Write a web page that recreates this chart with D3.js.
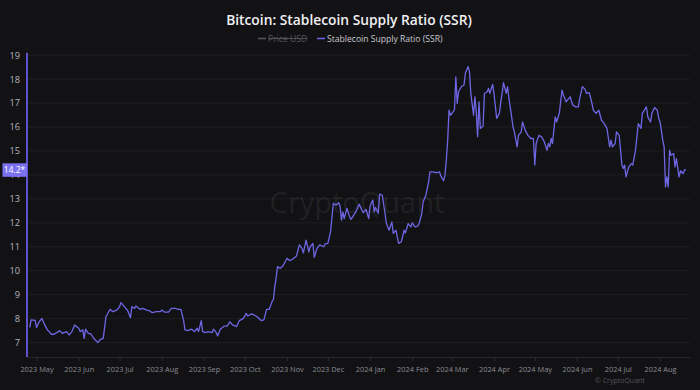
<!DOCTYPE html>
<html>
<head>
<meta charset="utf-8">
<script src="https://cdn.jsdelivr.net/npm/d3@7"></script>
<style>
  html, body { margin: 0; padding: 0; background: #121215; }
  svg { display: block; }
</style>
</head>
<body>
<svg id="chart" width="700" height="390"></svg>
<script>
// ---- data ----
const titleText = "Bitcoin: Stablecoin Supply Ratio (SSR)";
const legendLabels = ["Price USD", "Stablecoin Supply Ratio (SSR)"];
const yTicks = [7, 8, 9, 10, 11, 12, 13, 14, 15, 16, 17, 18, 19];
const lastLabel = "14.2*";
// days since 2023-05-01
const dayOffsets = [
  -5,-4,-1,0,2,4,6,8,11,13,16,17,19,22,24,26,28,31,32,34,35,36,38,40,42,45,47,49,51,53,
  54,56,59,61,62,65,67,69,70,72,73,76,78,81,83,85,88,91,92,94,97,99,102,104,106,108,109,111,114,116,
  118,119,121,122,124,126,129,130,132,133,135,138,140,142,144,147,149,152,154,155,158,160,162,165,167,169,171,173,174,175,
  176,177,179,181,184,186,188,191,193,195,196,198,200,201,203,204,206,208,211,212,214,216,218,220,222,223,224,225,226,228,
  230,231,233,235,237,239,240,242,244,245,247,248,249,251,252,254,256,257,259,261,262,264,266,268,270,271,273,275,276,278,
  280,281,283,284,286,288,289,291,294,296,297,299,300,301,302,303,304,306,307,308,309,310,312,314,315,317,318,319,321,322,
  323,324,325,326,328,329,331,332,333,335,336,338,340,341,342,343,345,346,347,349,350,351,353,354,356,357,359,361,363,365,
  366,367,369,371,373,375,376,377,378,379,381,382,384,386,387,389,391,392,393,394,396,398,399,401,403,404,406,408,409,411,
  413,415,417,419,421,422,423,425,426,428,430,431,432,433,435,437,438,440,442,444,445,448,449,451,452,454,456,457,458,460,
  461,462,463,464,465,466,468,469,470,472,473,475,476,477
];
const ssrValues = [
  7.64,7.95,7.93,7.63,7.87,8.01,7.74,7.53,7.35,7.35,7.46,7.50,7.39,7.46,7.32,7.46,7.74,7.60,7.46,7.53,7.18,7.56,7.39,7.36,7.18,7.00,7.14,7.18,8.08,8.29,
  8.39,8.29,8.36,8.50,8.67,8.47,8.33,8.04,8.50,8.43,8.53,8.39,8.43,8.36,8.33,8.25,8.29,8.29,8.36,8.27,8.27,8.43,8.43,8.39,8.39,7.94,7.53,7.50,7.56,7.46,
  7.60,7.46,7.92,7.46,7.42,7.46,7.42,7.56,7.42,7.28,7.56,7.69,7.69,7.87,7.74,7.67,7.92,8.01,8.22,8.11,8.20,8.15,8.08,7.92,7.95,8.39,8.39,8.71,8.80,9.33,
  9.70,10.17,10.10,10.20,10.52,10.42,10.48,10.62,11.08,10.93,10.75,11.28,10.79,11.00,11.14,10.56,10.93,11.08,11.00,11.12,11.14,11.63,12.81,12.74,12.84,12.67,12.11,12.46,12.18,12.60,
  12.25,12.14,12.32,12.50,12.78,12.53,12.42,12.56,12.18,12.70,12.95,12.46,12.64,12.39,13.20,13.15,12.39,11.97,11.69,12.04,11.56,11.69,11.14,11.21,11.69,11.58,11.97,11.83,12.00,11.83,
  11.86,11.97,12.39,12.88,13.15,13.71,14.13,14.13,14.09,14.13,13.95,13.76,13.99,14.61,15.44,16.70,16.49,16.63,16.73,18.09,16.98,17.47,17.68,17.75,18.24,18.52,18.31,17.40,16.49,17.26,
  16.63,15.59,17.05,15.94,16.04,17.40,17.47,17.61,17.40,17.78,17.40,16.36,16.57,17.05,17.40,17.85,17.40,17.68,17.19,16.42,16.00,15.79,15.17,15.65,15.79,16.21,15.86,15.65,15.52,15.52,
  14.41,15.31,15.65,15.59,15.38,15.03,15.31,15.17,15.52,15.31,16.42,16.21,16.57,17.54,17.33,17.05,17.19,17.26,17.05,16.91,16.84,16.84,17.19,17.68,17.57,17.40,17.43,16.98,16.70,16.57,
  16.70,16.28,16.14,15.94,15.17,15.45,15.17,15.31,15.79,15.65,14.41,14.27,14.41,13.92,14.33,14.47,14.41,15.03,16.14,15.94,16.57,16.84,16.42,16.21,16.57,16.81,16.70,16.36,16.21,15.45,
  15.17,13.50,13.92,13.50,15.03,14.82,14.89,14.33,14.68,13.92,14.17,14.06,14.22,14.20
];

// ---- chart ----
(function () {
const svg = d3.select("#chart");
const W = 700, H = 390;
const mLeft = 27, mRight = 690, mTop = 52.7, mBottom = 357;
const baseDate = new Date(2023, 4, 1);
const series = dayOffsets.map((d, i) => ({ date: d3.timeDay.offset(baseDate, d), v: ssrValues[i] }));

const x = d3.scaleTime()
  .domain([new Date(2023, 3, 24), new Date(2024, 7, 23)])
  .range([mLeft, mRight]);
const y = d3.scaleLinear().domain([6.4, 19.1]).range([mBottom, mTop]);

const lineColor = "#6f66e4";
const font = "'Open Sans', 'Noto Sans', sans-serif";

svg.append("rect").attr("width", W).attr("height", H).attr("fill", "#121215");

// grid
svg.append("g").selectAll("line").data(yTicks).join("line")
  .attr("x1", mLeft).attr("x2", mRight)
  .attr("y1", d => y(d)).attr("y2", d => y(d))
  .attr("stroke", "#1e1e24").attr("stroke-width", 1);

// watermark
svg.append("text")
  .attr("x", 357).attr("y", 213)
  .attr("text-anchor", "middle")
  .attr("font-family", font).attr("font-size", 29)
  .attr("fill", "rgba(255,255,255,0.07)")
  .text("CryptoQuant");

// x axis
const xAxis = d3.axisBottom(x)
  .ticks(d3.timeMonth.every(1))
  .tickFormat(d3.timeFormat("%Y %b"))
  .tickSize(4).tickSizeOuter(0);
const gx = svg.append("g").attr("transform", `translate(0,${mBottom})`).call(xAxis);
gx.select(".domain").attr("stroke", "#26262c");
gx.selectAll(".tick line").attr("stroke", "#2c2c33");
gx.selectAll(".tick text")
  .attr("fill", "#8a8a92").attr("font-family", font).attr("font-size", 7.4).attr("dy", "1.05em");

// y axis
const yAxis = d3.axisLeft(y).tickValues(yTicks).tickSize(0).tickPadding(7).tickFormat(d3.format("d"));
const gy = svg.append("g").attr("transform", `translate(${mLeft},0)`).call(yAxis);
gy.select(".domain").remove();
gy.selectAll(".tick text")
  .attr("fill", "#b4b4bc").attr("font-family", font).attr("font-size", 9.2);
svg.append("line")
  .attr("x1", mLeft).attr("x2", mLeft).attr("y1", mTop).attr("y2", mBottom)
  .attr("stroke", "#5b52cc").attr("stroke-width", 2);

// line
const line = d3.line().x(d => x(d.date)).y(d => y(d.v)).curve(d3.curveLinear);
svg.append("path").datum(series)
  .attr("d", line)
  .attr("fill", "none")
  .attr("stroke", lineColor)
  .attr("stroke-width", 1.3)
  .attr("stroke-linejoin", "round");

// last value label (covers the 14 tick label, as in the reference)
const lastV = ssrValues[ssrValues.length - 1];
svg.append("rect")
  .attr("x", 2.5).attr("y", y(lastV) - 6.8).attr("width", 24.5).attr("height", 13.5)
  .attr("fill", "#7b72f2");
svg.append("text")
  .attr("x", 14.5).attr("y", y(lastV) + 3.2)
  .attr("text-anchor", "middle")
  .attr("font-family", font).attr("font-size", 8.6)
  .attr("fill", "#ffffff")
  .text(lastLabel);

// title
svg.append("text")
  .attr("x", 349).attr("y", 25)
  .attr("text-anchor", "middle")
  .attr("font-family", font).attr("font-weight", 600).attr("font-size", 13.8)
  .attr("fill", "#f0f0f2")
  .text(titleText);

// legend
const lg = svg.append("g");
lg.append("line").attr("x1", 258).attr("x2", 266).attr("y1", 38.5).attr("y2", 38.5)
  .attr("stroke", "#55555c").attr("stroke-width", 1.5);
lg.append("text").attr("x", 268).attr("y", 41.5)
  .attr("font-family", font).attr("font-size", 8.6).attr("fill", "#55555c")
  .attr("text-decoration", "line-through")
  .text(legendLabels[0]);
lg.append("line").attr("x1", 317).attr("x2", 325).attr("y1", 38.5).attr("y2", 38.5)
  .attr("stroke", lineColor).attr("stroke-width", 1.5);
lg.append("text").attr("x", 327).attr("y", 41.5)
  .attr("font-family", font).attr("font-size", 8.6).attr("fill", "#c8c8ce")
  .text(legendLabels[1]);

// copyright
svg.append("text")
  .attr("x", 595).attr("y", 383)
  .attr("font-family", font).attr("font-size", 7)
  .attr("fill", "#55555c")
  .text("© CryptoQuant");
})();
</script>
</body>
</html>
